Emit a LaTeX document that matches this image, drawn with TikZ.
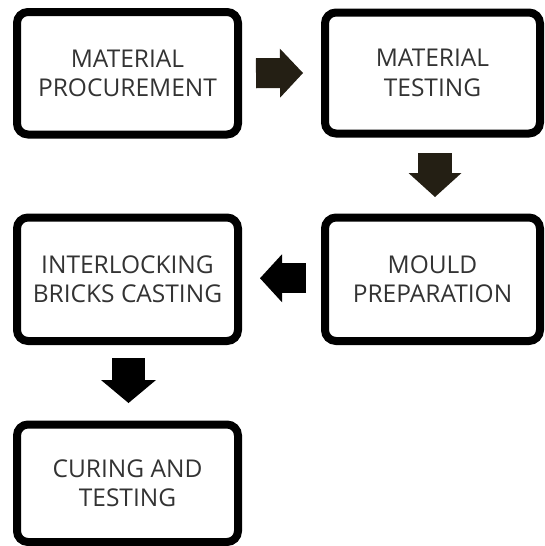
\documentclass[tikz,border=0pt]{standalone}
\usepackage{fontspec}
\setmainfont{Open Sans}
\usetikzlibrary{positioning}
\usetikzlibrary{arrows.meta}
\definecolor{arrowColor}{rgb}{0.14,0.12,0.08}
\definecolor{textColor}{rgb}{0.2,0.2,0.2}

\begin{document}
\begin{tikzpicture}[x=1pt,y=-1pt]

  \tikzstyle{stepBox} = [draw, black, line width=8pt, rounded corners=11pt, align=center, text=textColor, font=\fontsize{24.5}{29.5}\selectfont, inner sep=0pt];
  \tikzstyle{blockArrow} = [draw=arrowColor];

  \useasboundingbox (0,0) rectangle (544,546);

  \node[stepBox, minimum width=221pt, minimum height=122.5pt] (proc)  at (127.5,73.25)  {MATERIAL\\PROCUREMENT};
  \node[stepBox, minimum width=215pt, minimum height=121pt]   (mtest) at (432.5,73)     {MATERIAL\\TESTING};
  \node[stepBox, minimum width=215pt, minimum height=123.5pt] (mould) at (432.5,279.25) {MOULD\\PREPARATION};
  \node[stepBox, minimum width=221pt, minimum height=123.5pt] (cast)  at (127.5,279.25) {INTERLOCKING\\BRICKS CASTING};
  \node[stepBox, minimum width=221pt, minimum height=117.5pt] (cure)  at (127.5,483.25) {CURING AND\\TESTING};

  % ends of the block arrows
  \coordinate[right=14pt of proc]                (procOut);
  \coordinate[left=18pt of mtest]                (mtestIn);
  \coordinate[below=15.5pt of mtest, xshift=2.5pt] (mtestOut);
  \coordinate[above=16.5pt of mould, xshift=2.5pt] (mouldIn);
  \coordinate[left=15pt of mould, yshift=1pt]    (mouldOut);
  \coordinate[right=18pt of cast, yshift=1pt]    (castIn);
  \coordinate[below=13pt of cast, xshift=1pt]    (castOut);
  \coordinate[above=17.5pt of cure, xshift=1pt] (cureIn);

  \draw[blockArrow, line width=30pt, -{Triangle[length=23pt,width=49pt,line width=0pt]}] (procOut) -- (mtestIn);
  \draw[blockArrow, line width=34pt, -{Triangle[length=24pt,width=53pt,line width=0pt]}] (mtestOut) -- (mouldIn);
  \draw[blockArrow, draw=black, line width=30pt, -{Triangle[length=22pt,width=48pt,line width=0pt]}] (mouldOut) -- (castIn);
  \draw[blockArrow, draw=black, line width=33pt, -{Triangle[length=23pt,width=55pt,line width=0pt]}] (castOut) -- (cureIn);

\end{tikzpicture}
\end{document}
